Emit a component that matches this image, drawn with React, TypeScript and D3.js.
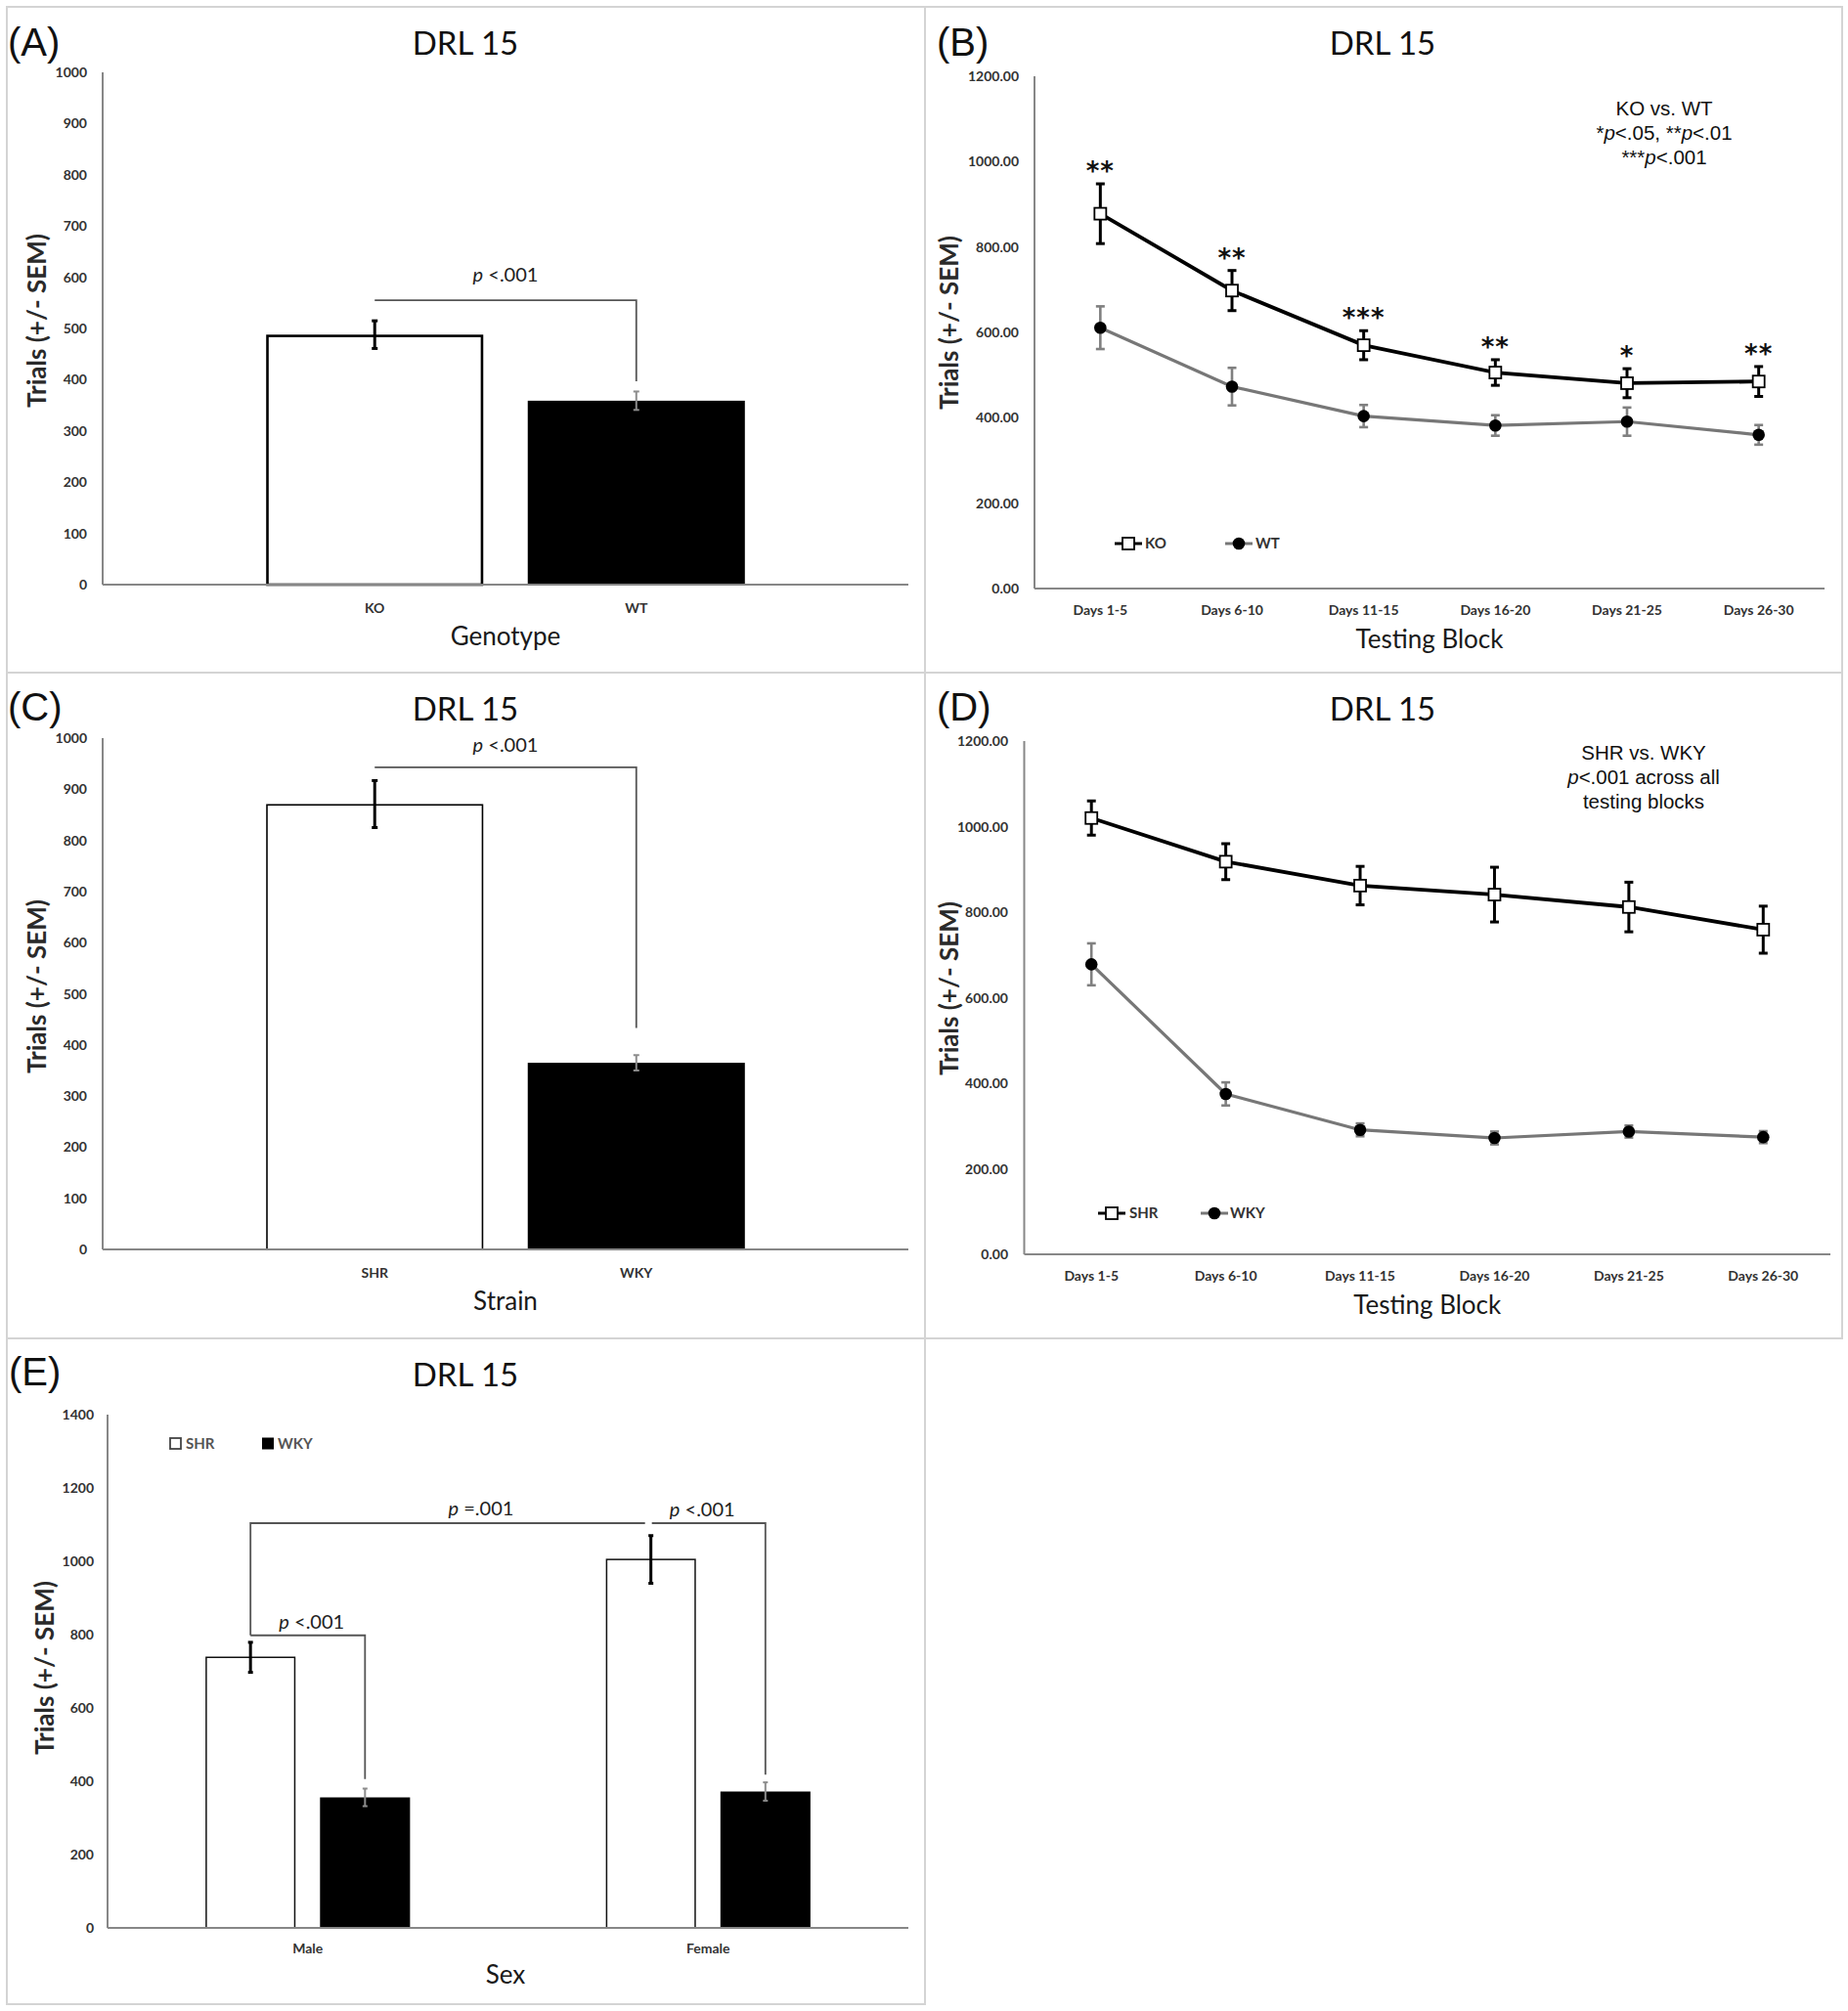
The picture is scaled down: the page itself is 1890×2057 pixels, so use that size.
import React from "react";
import * as d3 from "d3";

// ---------- DATA ----------
const genotypeCats = ["KO", "WT"];
const genotypeMeans = [488, 359];
const genotypeSem = [27, 18];

const strainCats = ["SHR", "WKY"];
const strainMeans = [871, 365];
const strainSem = [46, 15];

const blockCats = ["Days 1-5", "Days 6-10", "Days 11-15", "Days 16-20", "Days 21-25", "Days 26-30"];
const koMeans = [878, 698, 570, 506, 481, 485];
const koSem = [70, 47, 34, 30, 34, 35];
const wtMeans = [611, 473, 404, 382, 391, 360];
const wtSem = [50, 44, 26, 24, 33, 23];
const koStars = ["**", "**", "***", "**", "*", "**"];

const shrMeans = [1020, 918, 862, 841, 812, 759];
const shrSem = [40, 42, 45, 64, 58, 55];
const wkyMeans = [678, 375, 291, 272, 287, 274];
const wkySem = [49, 27, 15, 15, 14, 14];

const sexCats = ["Male", "Female"];
const sexStrains = ["SHR", "WKY"];
const sexShrMeans = [738, 1005];
const sexShrSem = [41, 65];
const sexWkyMeans = [356, 372];
const sexWkySem = [24, 25];

const ticks1000 = [0, 100, 200, 300, 400, 500, 600, 700, 800, 900, 1000];
const ticks1200 = [0, 200, 400, 600, 800, 1000, 1200];
const ticks1400 = [0, 200, 400, 600, 800, 1000, 1200, 1400];

// ---------- STYLE ----------
const LATO = "Lato, 'Open Sans', sans-serif";
const ARIAL = "'Liberation Sans', Arial, Helvetica, sans-serif";
const AXIS = "#878787";
const TICK = "#333";
const BRACKET = "#555";
const GRAYLINE = "#777";

function ErrBar({ x, yTop, yBot, color, w, cap }: any) {
  return (
    <g stroke={color} strokeWidth={w}>
      <line x1={x} x2={x} y1={yTop} y2={yBot} />
      <line x1={x - cap / 2} x2={x + cap / 2} y1={yTop} y2={yTop} />
      <line x1={x - cap / 2} x2={x + cap / 2} y1={yBot} y2={yBot} />
    </g>
  );
}

function YTicks({ y, ticks, fmt, x }: any) {
  return (
    <g>
      {ticks.map((t: number) => (
        <text key={t} x={x} y={y(t)} dy="0.36em" textAnchor="end" fontFamily={LATO}
          fontWeight="bold" fontSize={14} fill={TICK}>{fmt(t)}</text>
      ))}
    </g>
  );
}

function Axes({ x0, x1, y0, yTop }: any) {
  return (
    <g stroke={AXIS} strokeWidth={2}>
      <line x1={x0} x2={x0} y1={yTop} y2={y0} />
      <line x1={x0} x2={x1} y1={y0} y2={y0} />
    </g>
  );
}

function Title({ cx, y }: any) {
  return <text x={cx} y={y} textAnchor="middle" fontFamily={LATO} fontSize={33} fill="#111">DRL 15</text>;
}
function PanelLabel({ x, y, label }: any) {
  return <text x={x} y={y} fontFamily={ARIAL} fontSize={40} fill="#111">{label}</text>;
}
function YLabel({ x, y }: any) {
  return (
    <text transform={`translate(${x},${y}) rotate(-90)`} textAnchor="middle" dominantBaseline="central"
      fontFamily={LATO} fontWeight="bold" fontSize={26} fill="#2a2a2a">Trials (+/- SEM)</text>
  );
}
function XTitle({ x, y, label }: any) {
  return <text x={x} y={y} textAnchor="middle" fontFamily={LATO} fontSize={26} fill="#1a1a1a">{label}</text>;
}
function PText({ x, y, rest }: any) {
  return (
    <text x={x} y={y} textAnchor="middle" fontFamily={LATO} fontSize={20} fill="#222">
      <tspan fontStyle="italic">p</tspan>{rest}
    </text>
  );
}

// ---------- Simple two-bar panel (A, C) ----------
function TwoBarPanel({ cats, means, sems, y0, yTop, outline, xTitle, bracketTop, bracketEnd, pGap, titleY, labelY, label, ylabelY }: any) {
  const x0 = 105, x1 = 929;
  const y = d3.scaleLinear().domain([0, 1000]).range([y0, yTop]);
  const x = d3.scaleBand().domain(cats).range([x0, x1]).paddingInner(0.17).paddingOuter(0.625);
  const bw = x.bandwidth();
  const cx = (c: string) => (x(c) as number) + bw / 2;
  const bx1 = cx(cats[0]), bx2 = cx(cats[1]);
  const by = y(bracketTop);
  return (
    <g>
      <PanelLabel x={8} y={labelY} label={label} />
      <Title cx={476} y={titleY} />
      <YTicks y={y} ticks={ticks1000} fmt={(t: number) => String(t)} x={89} />
      {cats.map((c: string, i: number) => (
        <rect key={c} x={(x(c) as number) + (i === 0 ? outline / 2 : 0)} y={y(means[i]) + (i === 0 ? outline / 2 : 0)}
          width={bw - (i === 0 ? outline : 0)} height={y(0) - y(means[i]) - (i === 0 ? outline / 2 : 0)}
          fill={i === 0 ? "#fff" : "#000"} stroke={i === 0 ? "#000" : "none"} strokeWidth={outline} />
      ))}
      <Axes x0={x0} x1={x1} y0={y0} yTop={yTop} />
      {cats.map((c: string, i: number) => (
        <ErrBar key={c} x={cx(c)} yTop={y(means[i] + sems[i])} yBot={y(means[i] - sems[i])}
          color={i === 0 ? "#000" : "#8c8c8c"} w={i === 0 ? 3 : 2} cap={6} />
      ))}
      {cats.map((c: string) => (
        <text key={c} x={cx(c)} y={y0 + 29} textAnchor="middle" fontFamily={LATO} fontWeight="bold" fontSize={14} fill={TICK}>{c}</text>
      ))}
      <path d={`M${bx1},${by}H${bx2}V${y(bracketEnd)}`} fill="none" stroke={BRACKET} strokeWidth={1.8} />
      <PText x={(bx1 + bx2) / 2 + 0} y={by - pGap} rest=" <.001" />
      <YLabel x={37} y={ylabelY} />
      <XTitle x={517} y={y0 + 62} label={xTitle} />
    </g>
  );
}

// ---------- Line panel (B, D) ----------
function Square({ x, y }: any) {
  return <rect x={x - 6} y={y - 6} width={12} height={12} fill="#fff" stroke="#000" strokeWidth={1.8} />;
}
function Dot({ x, y }: any) {
  return <circle cx={x} cy={y} r={6.3} fill="#000" />;
}

function LinePanel({ x0, x1, y0, yTop, m1, e1, m2, e2, names, stars, titleY, labelY, label, ylabelY, tickX, legendY, legend, annot, annotX, annotY }: any) {
  const y = d3.scaleLinear().domain([0, 1200]).range([y0, yTop]);
  const x = d3.scalePoint().domain(blockCats).range([x0, x1]).padding(0.5);
  const line = d3.line<number>().x((_, i) => x(blockCats[i]) as number).y((d) => y(d));
  const fmt = d3.format(".2f");
  return (
    <g>
      <PanelLabel x={958} y={labelY} label={label} />
      <Title cx={1414} y={titleY} />
      <YTicks y={y} ticks={ticks1200} fmt={fmt} x={tickX} />
      <Axes x0={x0} x1={x1} y0={y0} yTop={yTop} />
      {blockCats.map((c) => (
        <text key={c} x={x(c)} y={y0 + 27} textAnchor="middle" fontFamily={LATO} fontWeight="bold" fontSize={14} fill={TICK}>{c}</text>
      ))}
      <path d={line(m2) as string} fill="none" stroke={GRAYLINE} strokeWidth={3.2} />
      <path d={line(m1) as string} fill="none" stroke="#000" strokeWidth={3.8} />
      {m2.map((v: number, i: number) => (
        <ErrBar key={"e2" + i} x={x(blockCats[i])} yTop={y(v + e2[i])} yBot={y(v - e2[i])} color="#808080" w={2.6} cap={9} />
      ))}
      {m1.map((v: number, i: number) => (
        <ErrBar key={"e1" + i} x={x(blockCats[i])} yTop={y(v + e1[i])} yBot={y(v - e1[i])} color="#000" w={3} cap={9} />
      ))}
      {m2.map((v: number, i: number) => <Dot key={"d" + i} x={x(blockCats[i])} y={y(v)} />)}
      {m1.map((v: number, i: number) => <Square key={"s" + i} x={x(blockCats[i])} y={y(v)} />)}
      {stars && m1.map((v: number, i: number) => (
        <text key={"st" + i} x={x(blockCats[i])} y={y(v + e1[i]) - 4} textAnchor="middle" fontFamily={"'DejaVu Sans', sans-serif"}
          fontWeight="bold" fontSize={26} letterSpacing={1} fill="#111">{stars[i]}</text>
      ))}
      {/* legend */}
      <g>
        <line x1={legend[0]} x2={legend[0] + 28} y1={legendY} y2={legendY} stroke="#000" strokeWidth={3} />
        <Square x={legend[0] + 14} y={legendY} />
        <text x={legend[1]} y={legendY} dy="0.36em" fontFamily={LATO} fontWeight="bold" fontSize={15} fill="#333">{names[0]}</text>
        <line x1={legend[2]} x2={legend[2] + 28} y1={legendY} y2={legendY} stroke={GRAYLINE} strokeWidth={3} />
        <Dot x={legend[2] + 14} y={legendY} />
        <text x={legend[3]} y={legendY} dy="0.36em" fontFamily={LATO} fontWeight="bold" fontSize={15} fill="#333">{names[1]}</text>
      </g>
      <g fontFamily={ARIAL} fontSize={20.5} fill="#111" textAnchor="middle">
        {annot.map((ln: any, i: number) => (
          <text key={i} x={annotX} y={annotY + i * 25}>{ln}</text>
        ))}
      </g>
      <YLabel x={970} y={ylabelY} />
      <XTitle x={(x0 + x1) / 2} y={y0 + 61} label="Testing Block" />
    </g>
  );
}

// ---------- Grouped bar panel (E) ----------
function PanelE() {
  const x0 = 110, x1 = 929, y0 = 1972, yTop = 1447;
  const y = d3.scaleLinear().domain([0, 1400]).range([y0, yTop]);
  const x = d3.scaleBand().domain(sexCats).range([x0, x1]);
  const xi = d3.scaleBand().domain(sexStrains).range([0, x.bandwidth()]).paddingInner(0.214).paddingOuter(0.855);
  const bw = xi.bandwidth();
  const cx = (sex: string, st: string) => (x(sex) as number) + (xi(st) as number) + bw / 2;
  const series = [
    { st: "SHR", m: sexShrMeans, e: sexShrSem },
    { st: "WKY", m: sexWkyMeans, e: sexWkySem },
  ];
  const mS = cx("Male", "SHR"), mW = cx("Male", "WKY"), fS = cx("Female", "SHR"), fW = cx("Female", "WKY");
  const bigY = y(1104), maleY = y(798);
  return (
    <g>
      <PanelLabel x={9} y={1417} label="(E)" />
      <Title cx={476} y={1418} />
      <YTicks y={y} ticks={ticks1400} fmt={(t: number) => String(t)} x={96} />
      {series.map((s) => sexCats.map((c, i) => (
        <rect key={s.st + c} x={(x(c) as number) + (xi(s.st) as number) + (s.st === "SHR" ? 0.75 : 0)} y={y(s.m[i])}
          width={bw - (s.st === "SHR" ? 1.5 : 0)} height={y(0) - y(s.m[i])}
          fill={s.st === "SHR" ? "#fff" : "#000"} stroke={s.st === "SHR" ? "#111" : "none"} strokeWidth={1.5} />
      )))}
      <Axes x0={x0} x1={x1} y0={y0} yTop={yTop} />
      {series.map((s) => sexCats.map((c, i) => (
        <ErrBar key={"e" + s.st + c} x={cx(c, s.st)} yTop={y(s.m[i] + s.e[i])} yBot={y(s.m[i] - s.e[i])}
          color={s.st === "SHR" ? "#000" : "#8c8c8c"} w={s.st === "SHR" ? 3 : 2} cap={5} />
      )))}
      {sexCats.map((c) => (
        <text key={c} x={(x(c) as number) + x.bandwidth() / 2} y={y0 + 26} textAnchor="middle" fontFamily={LATO}
          fontWeight="bold" fontSize={14} fill={TICK}>{c}</text>
      ))}
      <g fill="none" stroke={BRACKET} strokeWidth={1.8}>
        <path d={`M${mS},${maleY}V${bigY}H${fS - 6}`} />
        <path d={`M${mS},${maleY}H${mW}V${y(406)}`} />
        <path d={`M${fS + 1},${bigY}H${fW}V${y(418)}`} />
      </g>
      <PText x={(mS + fS) / 2 + 31} y={bigY - 8} rest=" =.001" />
      <PText x={(fS + fW) / 2 - 6} y={bigY - 7} rest=" <.001" />
      <PText x={(mS + mW) / 2 + 4} y={maleY - 7} rest=" <.001" />
      <g>
        <rect x={174} y={1471} width={11} height={11} fill="#fff" stroke="#444" strokeWidth={1.8} />
        <text x={190} y={1477} dy="0.36em" fontFamily={LATO} fontWeight="bold" fontSize={15} fill="#555">SHR</text>
        <rect x={268} y={1470.5} width={12} height={12} fill="#000" />
        <text x={284} y={1477} dy="0.36em" fontFamily={LATO} fontWeight="bold" fontSize={15} fill="#555">WKY</text>
      </g>
      <YLabel x={45} y={1706} />
      <XTitle x={517} y={2029} label="Sex" />
    </g>
  );
}

export default function App() {
  const W = 1890, H = 2057;
  const annotB = [
    <tspan key="a">KO vs. WT</tspan>,
    <tspan key="b">*<tspan fontStyle="italic">p</tspan>{"<.05, **"}<tspan fontStyle="italic">p</tspan>{"<.01"}</tspan>,
    <tspan key="c">***<tspan fontStyle="italic">p</tspan>{"<.001"}</tspan>,
  ];
  const annotD = [
    <tspan key="a">SHR vs. WKY</tspan>,
    <tspan key="b"><tspan fontStyle="italic">p</tspan>{"<.001 across all"}</tspan>,
    <tspan key="c">testing blocks</tspan>,
  ];
  return (
    <svg width={W} height={H} viewBox={`0 0 ${W} ${H}`} style={{ position: "absolute", left: 0, top: 0, display: "block", background: "#fff" }}>
      <rect x={0} y={0} width={W} height={H} fill="#fff" />
      {/* panel frames */}
      <g fill="none" stroke="#d4d4d4" strokeWidth={2}>
        <rect x={7} y={7} width={1877} height={681} />
        <line x1={946} x2={946} y1={7} y2={1369} />
        <rect x={7} y={688} width={1877} height={681} />
        <rect x={7} y={1369} width={939} height={681} />
      </g>
      <TwoBarPanel cats={genotypeCats} means={genotypeMeans} sems={genotypeSem} y0={598} yTop={74} outline={2.6}
        xTitle="Genotype" bracketTop={555} bracketEnd={397} pGap={19} titleY={56} labelY={57} label="(A)" ylabelY={328} />
      <TwoBarPanel cats={strainCats} means={strainMeans} sems={strainSem} y0={1278} yTop={755} outline={1.6}
        xTitle="Strain" bracketTop={943} bracketEnd={433} pGap={16} titleY={737} labelY={737} label="(C)" ylabelY={1009} />
      <LinePanel x0={1058} x1={1866} y0={602} yTop={78} m1={koMeans} e1={koSem} m2={wtMeans} e2={wtSem}
        names={["KO", "WT"]} stars={koStars} titleY={56} labelY={57} label="(B)" ylabelY={330} tickX={1042}
        legendY={556} legend={[1140, 1171, 1253, 1284]} annot={annotB} annotX={1702} annotY={118} />
      <LinePanel x0={1047.5} x1={1872} y0={1283} yTop={758} m1={shrMeans} e1={shrSem} m2={wkyMeans} e2={wkySem}
        names={["SHR", "WKY"]} stars={null} titleY={737} labelY={737} label="(D)" ylabelY={1011} tickX={1031}
        legendY={1241} legend={[1123, 1155, 1228, 1258]} annot={annotD} annotX={1681} annotY={777} />
      <PanelE />
    </svg>
  );
}
